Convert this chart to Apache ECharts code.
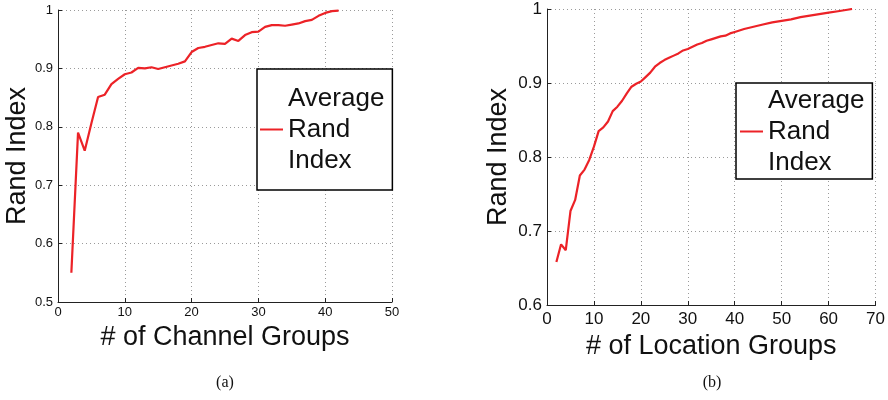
<!DOCTYPE html>
<html>
<head>
<meta charset="utf-8">
<script src="https://cdn.jsdelivr.net/npm/echarts@6/dist/echarts.min.js"></script>
<style>
  html, body { margin: 0; padding: 0; background: #fff; }
  #container { width: 888px; height: 400px; }
</style>
</head>
<body>
<div id="container"></div>
<script>
// (a) rand index vs number of channel groups
let channelX = [2, 3, 4, 5, 6, 7, 8, 9, 10, 11, 12, 13, 14, 15, 16, 17, 18, 19, 20, 21,
  22, 23, 24, 25, 26, 27, 28, 29, 30, 31, 32, 33, 34, 35, 36, 37, 38, 39, 40, 41, 42];
let channelY = [0.550, 0.790, 0.759, 0.806, 0.851, 0.855, 0.873, 0.882, 0.890, 0.893,
  0.901, 0.900, 0.902, 0.899, 0.902, 0.905, 0.908, 0.912, 0.928, 0.935,
  0.937, 0.940, 0.943, 0.942, 0.951, 0.947, 0.957, 0.962, 0.963, 0.971,
  0.974, 0.974, 0.973, 0.975, 0.977, 0.981, 0.983, 0.990, 0.995, 0.998, 0.999];

// (b) rand index vs number of location groups
let locationX = [2, 3, 4, 5, 6, 7, 8, 9, 10, 11, 12, 13, 14, 15, 16, 17, 18, 19, 20, 21,
  22, 23, 24, 25, 26, 27, 28, 29, 30, 31, 32, 33, 34, 35, 36, 37, 38, 39, 40,
  42, 44, 46, 48, 50, 52, 54, 56, 58, 60, 62, 64, 65];
let locationY = [0.658, 0.682, 0.674, 0.727, 0.742, 0.775, 0.783, 0.796, 0.814, 0.835,
  0.840, 0.848, 0.862, 0.868, 0.876, 0.886, 0.895, 0.899, 0.902, 0.908,
  0.914, 0.922, 0.927, 0.931, 0.934, 0.937, 0.940, 0.944, 0.946, 0.949,
  0.952, 0.954, 0.957, 0.959, 0.961, 0.963, 0.964, 0.967, 0.969,
  0.973, 0.976, 0.979, 0.982, 0.984, 0.986, 0.989, 0.991, 0.993, 0.995, 0.997, 0.999, 1.0];

let legendText = 'Average\nRand\nIndex';
let captions = ['(a)', '(b)'];

let font = "'Liberation Sans', Arial, Helvetica, sans-serif";
let red = '#ec2227';

let graph = echarts.init(document.getElementById('container'), null, {renderer: 'canvas'});

function xAxisFor(gridIndex, max, name, labelSize, labelMargin, nameGap) {
  return {
    type: 'value',
    gridIndex: gridIndex,
    min: 0,
    max: max,
    interval: 10,
    name: name,
    nameLocation: 'middle',
    nameGap: nameGap,
    nameTextStyle: {fontFamily: font, fontSize: 27, color: '#111'},
    axisLine: {show: true, onZero: false, lineStyle: {color: '#222', width: 1}},
    axisTick: {show: true, inside: true, length: 4, lineStyle: {color: '#222'}},
    axisLabel: {fontFamily: font, fontSize: labelSize, color: '#111', margin: labelMargin},
    splitLine: {show: true, lineStyle: {type: [1, 3], color: '#9a9a9a', width: 1}},
  };
}

function yAxisFor(gridIndex, min, labelSize, nameGap) {
  return {
    type: 'value',
    gridIndex: gridIndex,
    min: min,
    max: 1,
    interval: 0.1,
    name: 'Rand Index',
    nameLocation: 'middle',
    nameGap: nameGap,
    nameTextStyle: {fontFamily: font, fontSize: 27, color: '#111'},
    axisLine: {show: true, onZero: false, lineStyle: {color: '#222', width: 1}},
    axisTick: {show: true, inside: true, length: 4, lineStyle: {color: '#222'}},
    axisLabel: {fontFamily: font, fontSize: labelSize, color: '#111', margin: 5},
    splitLine: {show: true, lineStyle: {type: [1, 3], color: '#9a9a9a', width: 1}},
  };
}

function legendFor(seriesName, left, top, padding) {
  return {
    data: [seriesName],
    left: left,
    top: top,
    orient: 'vertical',
    padding: padding,
    itemWidth: 23,
    itemHeight: 14,
    icon: 'path://M0,6 L23,6 L23,8 L0,8 Z',
    backgroundColor: '#fff',
    borderColor: '#000',
    borderWidth: 1.5,
    borderRadius: 0,
    selectedMode: false,
    formatter: () => legendText,
    textStyle: {fontFamily: font, fontSize: 26, lineHeight: 31, color: '#111'},
  };
}

let option = {
  animation: false,
  backgroundColor: '#fff',
  grid: [
    {left: 58, top: 10, width: 334, height: 292},
    {left: 547, top: 9, width: 330, height: 296},
  ],
  xAxis: [
    xAxisFor(0, 50, '# of Channel Groups', 13, 4, 20),
    xAxisFor(1, 70, '# of Location Groups', 17, 6, 28),
  ],
  yAxis: [
    yAxisFor(0, 0.5, 13, 26),
    yAxisFor(1, 0.6, 17, 35),
  ],
  legend: [
    legendFor('Average Rand Index (a)', 257, 69, [14, 8, 14, 3]),
    legendFor('Average Rand Index (b)', 736, 83, [2, 8, 1, 4]),
  ],
  graphic: captions.map((c, i) => ({
    type: 'text',
    x: i === 0 ? 225 : 712,
    y: 383,
    style: {
      text: c,
      font: "16px 'Liberation Serif', 'DejaVu Serif', serif",
      fill: '#111',
      align: 'center',
      verticalAlign: 'middle',
    },
  })),
  series: [
    {
      name: 'Average Rand Index (a)',
      type: 'line',
      xAxisIndex: 0,
      yAxisIndex: 0,
      showSymbol: false,
      color: red,
      lineStyle: {color: red, width: 2.2},
      data: channelX.map((x, i) => [x, channelY[i]]),
    },
    {
      name: 'Average Rand Index (b)',
      type: 'line',
      xAxisIndex: 1,
      yAxisIndex: 1,
      showSymbol: false,
      color: red,
      lineStyle: {color: red, width: 2.2},
      data: locationX.map((x, i) => [x, locationY[i]]),
    },
  ],
};

if (option && typeof option === 'object') {
  graph.setOption(option);
}
</script>
</body>
</html>
